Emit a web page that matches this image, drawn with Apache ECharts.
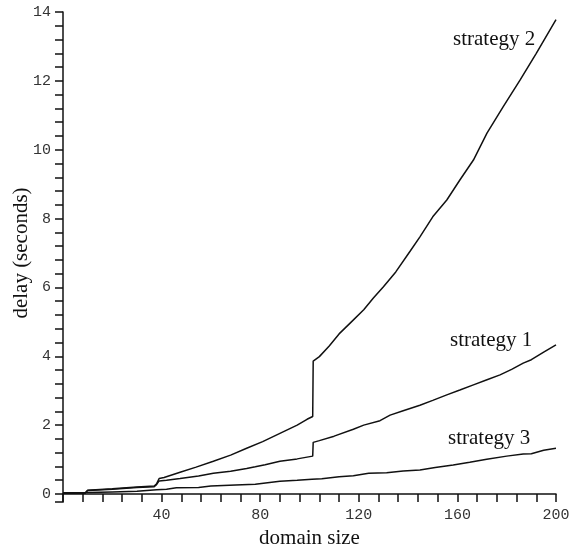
<!DOCTYPE html>
<html>
<head>
<meta charset="utf-8">
<script src="https://cdn.jsdelivr.net/npm/echarts@6/dist/echarts.min.js"></script>
<style>html,body{margin:0;padding:0;background:#fff;}#c{width:571px;height:551px;}</style>
</head>
<body>
<div id="c"></div>
<script>
// Data: [domain size, delay (s)]
var strategy1 = [[0,0.03],[9,0.03],[10,0.1],[20,0.14],[30,0.19],[37,0.21],[38,0.28],[39,0.38],[42,0.4],[47.5,0.45],[55,0.52],[61,0.6],[68,0.66],[74.5,0.74],[78,0.79],[82,0.85],[88,0.95],[95,1.02],[101.3,1.1],[101.5,1.5],[104,1.55],[110,1.68],[117.8,1.88],[122,2.0],[128.6,2.13],[132.7,2.29],[138,2.42],[144.8,2.58],[150,2.72],[155.7,2.88],[161,3.02],[166.5,3.17],[172,3.32],[177.3,3.46],[182,3.62],[186.7,3.8],[190,3.9],[195,4.12],[200,4.33]];
var strategy2 = [[0,0.03],[9,0.03],[10,0.11],[20,0.15],[30,0.2],[37,0.23],[38,0.3],[39,0.45],[41,0.48],[47.5,0.63],[54,0.78],[61,0.95],[68,1.13],[74.5,1.33],[81,1.52],[88,1.76],[95,2.0],[99,2.17],[101.3,2.25],[101.5,3.86],[104,3.99],[108,4.3],[112,4.65],[117,5.0],[122,5.35],[126,5.7],[130,6.02],[135,6.45],[140.8,7.05],[144.8,7.47],[150,8.05],[155.7,8.54],[161,9.12],[166.5,9.7],[172,10.48],[178.6,11.25],[185.4,12.02],[192,12.8],[200,13.78]];
var strategy3 = [[0,0.03],[10,0.04],[20,0.06],[30,0.08],[38,0.12],[42,0.14],[46,0.18],[55,0.19],[60,0.23],[70,0.26],[78,0.28],[88,0.37],[95,0.4],[101,0.43],[105,0.44],[112,0.5],[117.8,0.53],[124,0.6],[131.3,0.62],[138,0.67],[144.8,0.7],[151,0.77],[158.3,0.84],[165,0.92],[171.9,1.01],[180,1.1],[186.7,1.16],[190,1.17],[195,1.27],[200,1.33]];
var seriesNames = ['strategy 1','strategy 2','strategy 3'];
var xTitle = 'domain size';
var yTitle = 'delay (seconds)';

var chart = echarts.init(document.getElementById('c'), null, {renderer:'canvas'});
var tickFont = {fontFamily:'Liberation Mono', fontSize:15, color:'#333'};
function mkSeries(name, data){
  return {name:name, type:'line', data:data, symbol:'none', animation:false,
    lineStyle:{color:'#111', width:1.5}};
}
chart.setOption({
  animation:false,
  grid:{left:63, right:15, top:12, bottom:57, containLabel:false, outerBoundsMode:'none'},
  xAxis:{type:'value', min:0, max:200, interval:40,
    name:xTitle, nameLocation:'middle', nameGap:33,
    nameTextStyle:{fontFamily:'Liberation Serif', fontSize:21, color:'#111'},
    axisLine:{lineStyle:{color:'#111', width:1.5}},
    axisTick:{show:true, length:8, lineStyle:{color:'#111', width:1.5}},
    minorTick:{show:true, splitNumber:5, length:8, lineStyle:{color:'#111', width:1.5}},
    splitLine:{show:false},
    axisLabel:Object.assign({margin:14, formatter:function(v){return v===0?'':String(v);}}, tickFont)
  },
  yAxis:{type:'value', min:0, max:14, interval:2,
    name:yTitle, nameLocation:'middle', nameGap:31, nameMoveOverlap:false,
    nameTextStyle:{fontFamily:'Liberation Serif', fontSize:21, color:'#111'},
    axisLine:{lineStyle:{color:'#111', width:1.5}},
    axisTick:{show:true, length:8, lineStyle:{color:'#111', width:1.5}},
    minorTick:{show:true, splitNumber:5, length:8, lineStyle:{color:'#111', width:1.5}},
    splitLine:{show:false},
    axisLabel:Object.assign({margin:12}, tickFont)
  },
  series:[mkSeries(seriesNames[0], strategy1), mkSeries(seriesNames[1], strategy2), mkSeries(seriesNames[2], strategy3)]
});

// Series annotations and the short axis extension at the origin corner
var o = chart.convertToPixel({gridIndex:0}, [0,0]);
var labelStyle = {fontFamily:'Liberation Serif', fontSize:21, fill:'#111'};
chart.setOption({graphic:[
  {type:'text', left:453, top:29, style:Object.assign({text:seriesNames[1]}, labelStyle)},
  {type:'text', left:450, top:330, style:Object.assign({text:seriesNames[0]}, labelStyle)},
  {type:'text', left:448, top:428, style:Object.assign({text:seriesNames[2]}, labelStyle)},
  {type:'polyline', shape:{points:[[o[0],o[1]],[o[0],o[1]+8],[o[0]-8,o[1]+8]]},
    style:{stroke:'#111', lineWidth:1.5, fill:null}}
]});
</script>
</body>
</html>
